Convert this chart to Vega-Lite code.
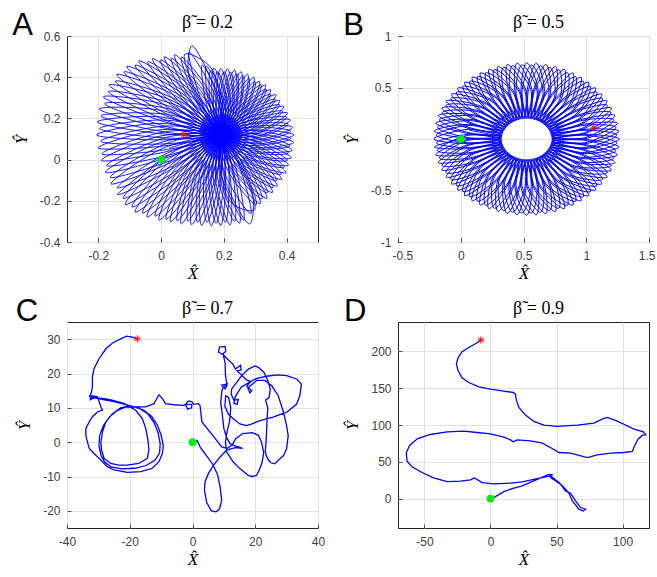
{
"$schema":"https://vega.github.io/schema/vega-lite/v6.json",
"background":"white",
"padding":{"left":11,"top":9,"right":0,"bottom":2},
"config":{
 "view":{"stroke":"#262626","strokeWidth":1},
 "axis":{"labelFont":"Liberation Sans","labelFontSize":12,"labelColor":"#404040","domain":false,"tickColor":"#262626","tickSize":-4,"tickWidth":0.8,"grid":true,"gridColor":"#e2e2e2","gridWidth":1,"labelFlush":false,"labelOverlap":false,"labelBound":false,"labelExpr":"'' + datum.value","titleFont":"Liberation Serif","titleFontStyle":"italic","titleFontWeight":"normal","titleFontSize":17,"titleColor":"#000000"},
 "axisX":{"labelPadding":12,"titlePadding":4},
 "axisY":{"labelPadding":11,"titlePadding":9},
 "title":{"font":"Liberation Sans","fontSize":31,"fontWeight":"normal","color":"#000000","anchor":"start","frame":"bounds","orient":"top","baseline":"alphabetic","offset":0,"dy":33}
},
"datasets":{
"m":[{"p":"A","k":"s","x":0,"y":0},{"p":"A","k":"e","x":0.072,"y":0.122},{"p":"B","k":"s","x":0,"y":0},{"p":"B","k":"e","x":1.06,"y":0.108},{"p":"C","k":"s","x":0,"y":0},{"p":"C","k":"e","x":-17.6,"y":30.1},{"p":"D","k":"s","x":0,"y":0},{"p":"D","k":"e","x":-7.3,"y":215.5}],
"a":[{"x":0,"y":0},
{"x":-0.139,"y":-0.17},{"x":0.033,"y":-0.046},{"x":0.19,"y":0.12},{"x":0.017,"y":-0.004},
{"x":-0.115,"y":-0.218},{"x":0.047,"y":-0.069},{"x":0.19,"y":0.12},{"x":0.028,"y":-0.03},
{"x":-0.083,"y":-0.255},{"x":0.064,"y":-0.086},{"x":0.19,"y":0.12},{"x":0.043,"y":-0.05},
{"x":-0.045,"y":-0.279},{"x":0.084,"y":-0.096},{"x":0.19,"y":0.12},{"x":0.061,"y":-0.063},
{"x":-0.007,"y":-0.294},{"x":0.104,"y":-0.102},{"x":0.19,"y":0.12},{"x":0.079,"y":-0.073},
{"x":0.03,"y":-0.302},{"x":0.124,"y":-0.103},{"x":0.19,"y":0.12},{"x":0.096,"y":-0.079},
{"x":0.064,"y":-0.312},{"x":0.142,"y":-0.106},{"x":0.19,"y":0.12},{"x":0.112,"y":-0.086},
{"x":0.097,"y":-0.316},{"x":0.159,"y":-0.106},{"x":0.19,"y":0.12},{"x":0.128,"y":-0.091},
{"x":0.129,"y":-0.319},{"x":0.175,"y":-0.105},{"x":0.19,"y":0.12},{"x":0.144,"y":-0.094},
{"x":0.16,"y":-0.322},{"x":0.191,"y":-0.103},{"x":0.19,"y":0.12},{"x":0.159,"y":-0.098},
{"x":0.19,"y":-0.319},{"x":0.206,"y":-0.1},{"x":0.19,"y":0.12},{"x":0.174,"y":-0.1},
{"x":0.22,"y":-0.317},{"x":0.221,"y":-0.096},{"x":0.19,"y":0.12},{"x":0.189,"y":-0.101},
{"x":0.25,"y":-0.309},{"x":0.236,"y":-0.09},{"x":0.19,"y":0.12},{"x":0.204,"y":-0.1},
{"x":0.282,"y":-0.312},{"x":0.291,"y":-0.164},{"x":0.19,"y":0.12},{"x":0.218,"y":-0.2},
{"x":0.297,"y":-0.245},{"x":0.258,"y":-0.053},{"x":0.19,"y":0.12},{"x":0.229,"y":-0.073},
{"x":0.316,"y":-0.214},{"x":0.267,"y":-0.035},{"x":0.19,"y":0.12},{"x":0.239,"y":-0.059},
{"x":0.337,"y":-0.188},{"x":0.276,"y":-0.02},{"x":0.19,"y":0.12},{"x":0.25,"y":-0.048},
{"x":0.355,"y":-0.159},{"x":0.284,"y":-0.003},{"x":0.19,"y":0.12},{"x":0.26,"y":-0.036},
{"x":0.37,"y":-0.128},{"x":0.291,"y":0.014},{"x":0.19,"y":0.12},{"x":0.27,"y":-0.022},
{"x":0.384,"y":-0.095},{"x":0.296,"y":0.032},{"x":0.19,"y":0.12},{"x":0.278,"y":-0.007},
{"x":0.398,"y":-0.063},{"x":0.302,"y":0.05},{"x":0.19,"y":0.12},{"x":0.286,"y":0.007},
{"x":0.406,"y":-0.027},{"x":0.305,"y":0.069},{"x":0.19,"y":0.12},{"x":0.292,"y":0.024},
{"x":0.415,"y":0.009},{"x":0.307,"y":0.088},{"x":0.19,"y":0.12},{"x":0.298,"y":0.041},
{"x":0.418,"y":0.046},{"x":0.307,"y":0.107},{"x":0.19,"y":0.12},{"x":0.301,"y":0.059},
{"x":0.422,"y":0.083},{"x":0.308,"y":0.126},{"x":0.19,"y":0.12},{"x":0.304,"y":0.077},
{"x":0.423,"y":0.12},{"x":0.307,"y":0.144},{"x":0.19,"y":0.12},{"x":0.307,"y":0.096},
{"x":0.419,"y":0.157},{"x":0.303,"y":0.163},{"x":0.19,"y":0.12},{"x":0.306,"y":0.114},
{"x":0.412,"y":0.192},{"x":0.298,"y":0.18},{"x":0.19,"y":0.12},{"x":0.304,"y":0.132},
{"x":0.403,"y":0.226},{"x":0.292,"y":0.196},{"x":0.19,"y":0.12},{"x":0.301,"y":0.15},
{"x":0.391,"y":0.257},{"x":0.284,"y":0.211},{"x":0.19,"y":0.12},{"x":0.297,"y":0.166},
{"x":0.378,"y":0.286},{"x":0.276,"y":0.224},{"x":0.19,"y":0.12},{"x":0.292,"y":0.182},
{"x":0.366,"y":0.315},{"x":0.269,"y":0.237},{"x":0.19,"y":0.12},{"x":0.287,"y":0.198},
{"x":0.349,"y":0.339},{"x":0.259,"y":0.248},{"x":0.19,"y":0.12},{"x":0.28,"y":0.211},
{"x":0.333,"y":0.363},{"x":0.25,"y":0.258},{"x":0.19,"y":0.12},{"x":0.274,"y":0.225},
{"x":0.314,"y":0.38},{"x":0.239,"y":0.265},{"x":0.19,"y":0.12},{"x":0.265,"y":0.236},
{"x":0.296,"y":0.399},{"x":0.229,"y":0.272},{"x":0.19,"y":0.12},{"x":0.257,"y":0.247},
{"x":0.276,"y":0.414},{"x":0.218,"y":0.277},{"x":0.19,"y":0.12},{"x":0.248,"y":0.257},
{"x":0.255,"y":0.426},{"x":0.207,"y":0.281},{"x":0.19,"y":0.12},{"x":0.238,"y":0.266},
{"x":0.234,"y":0.435},{"x":0.196,"y":0.283},{"x":0.19,"y":0.12},{"x":0.228,"y":0.272},
{"x":0.212,"y":0.44},{"x":0.185,"y":0.283},{"x":0.19,"y":0.12},{"x":0.217,"y":0.278},
{"x":0.19,"y":0.442},{"x":0.174,"y":0.281},{"x":0.19,"y":0.12},{"x":0.206,"y":0.281},
{"x":0.168,"y":0.445},{"x":0.163,"y":0.28},{"x":0.19,"y":0.12},{"x":0.195,"y":0.285},
{"x":0.144,"y":0.454},{"x":0.151,"y":0.282},{"x":0.19,"y":0.12},{"x":0.182,"y":0.292},
{"x":0.098,"y":0.552},{"x":0.089,"y":0.404},{"x":0.19,"y":0.12},{"x":0.162,"y":0.44},
{"x":0.076,"y":0.512},{"x":0.118,"y":0.306},{"x":0.19,"y":0.12},{"x":0.147,"y":0.326},
{"x":0.043,"y":0.509},{"x":0.103,"y":0.302},{"x":0.19,"y":0.12},{"x":0.13,"y":0.327},
{"x":0.01,"y":0.499},{"x":0.087,"y":0.295},{"x":0.19,"y":0.12},{"x":0.113,"y":0.324},
{"x":-0.028,"y":0.49},{"x":0.069,"y":0.289},{"x":0.19,"y":0.12},{"x":0.093,"y":0.321},
{"x":-0.071,"y":0.479},{"x":0.049,"y":0.281},{"x":0.19,"y":0.12},{"x":0.07,"y":0.318},
{"x":-0.11,"y":0.453},{"x":0.031,"y":0.267},{"x":0.19,"y":0.12},{"x":0.05,"y":0.306},
{"x":-0.142,"y":0.413},{"x":0.016,"y":0.245},{"x":0.19,"y":0.12},{"x":0.032,"y":0.288},
{"x":-0.166,"y":0.362},{"x":0.006,"y":0.219},{"x":0.19,"y":0.12},{"x":0.019,"y":0.263},
{"x":-0.184,"y":0.305},{"x":-0.002,"y":0.19},{"x":0.19,"y":0.12},{"x":0.008,"y":0.236},
{"x":-0.198,"y":0.246},{"x":-0.007,"y":0.159},{"x":0.19,"y":0.12},{"x":-0.001,"y":0.207},
{"x":-0.204,"y":0.183},{"x":-0.009,"y":0.127},{"x":0.19,"y":0.12},{"x":-0.005,"y":0.176},
{"x":-0.206,"y":0.12},{"x":-0.008,"y":0.096},{"x":0.19,"y":0.12},{"x":-0.008,"y":0.144},
{"x":-0.201,"y":0.057},{"x":-0.004,"y":0.064},{"x":0.19,"y":0.12},{"x":-0.007,"y":0.113},
{"x":-0.191,"y":-0.004},{"x":0.003,"y":0.034},{"x":0.19,"y":0.12},{"x":-0.004,"y":0.082},
{"x":-0.178,"y":-0.062},{"x":0.011,"y":0.006},{"x":0.19,"y":0.12},{"x":0.001,"y":0.052},
{"x":-0.16,"y":-0.118},{"x":0.021,"y":-0.021},{"x":0.19,"y":0.12},{"x":0.008,"y":0.023},
{"x":-0.14,"y":-0.137},{"x":0.051,"y":-0.021},{"x":0.224,"y":0.147},{"x":0.033,"y":0.031},
{"x":-0.121,"y":-0.188},{"x":0.061,"y":-0.043},{"x":0.222,"y":0.152},{"x":0.04,"y":0.006},
{"x":-0.093,"y":-0.23},{"x":0.076,"y":-0.059},{"x":0.22,"y":0.157},{"x":0.051,"y":-0.014},
{"x":-0.059,"y":-0.259},{"x":0.093,"y":-0.07},{"x":0.217,"y":0.161},{"x":0.066,"y":-0.028},
{"x":-0.019,"y":-0.274},{"x":0.112,"y":-0.073},{"x":0.214,"y":0.166},{"x":0.083,"y":-0.036},
{"x":0.016,"y":-0.289},{"x":0.13,"y":-0.076},{"x":0.211,"y":0.169},{"x":0.097,"y":-0.044},
{"x":0.051,"y":-0.297},{"x":0.146,"y":-0.076},{"x":0.207,"y":0.172},{"x":0.112,"y":-0.049},
{"x":0.085,"y":-0.299},{"x":0.162,"y":-0.073},{"x":0.204,"y":0.175},{"x":0.126,"y":-0.052},
{"x":0.116,"y":-0.304},{"x":0.176,"y":-0.071},{"x":0.2,"y":0.177},{"x":0.139,"y":-0.056},
{"x":0.146,"y":-0.304},{"x":0.19,"y":-0.068},{"x":0.196,"y":0.178},{"x":0.152,"y":-0.059},
{"x":0.175,"y":-0.309},{"x":0.203,"y":-0.067},{"x":0.192,"y":0.178},{"x":0.165,"y":-0.064},
{"x":0.205,"y":-0.304},{"x":0.216,"y":-0.061},{"x":0.188,"y":0.178},{"x":0.177,"y":-0.064},
{"x":0.234,"y":-0.299},{"x":0.228,"y":-0.056},{"x":0.184,"y":0.178},{"x":0.19,"y":-0.065},
{"x":0.263,"y":-0.295},{"x":0.24,"y":-0.052},{"x":0.18,"y":0.177},{"x":0.203,"y":-0.067},
{"x":0.286,"y":-0.263},{"x":0.249,"y":-0.033},{"x":0.176,"y":0.175},{"x":0.213,"y":-0.054},
{"x":0.303,"y":-0.219},{"x":0.255,"y":-0.01},{"x":0.173,"y":0.172},{"x":0.221,"y":-0.037},
{"x":0.322,"y":-0.191},{"x":0.262,"y":0.005},{"x":0.169,"y":0.169},{"x":0.23,"y":-0.027},
{"x":0.339,"y":-0.161},{"x":0.267,"y":0.021},{"x":0.166,"y":0.166},{"x":0.237,"y":-0.016},
{"x":0.357,"y":-0.135},{"x":0.274,"y":0.034},{"x":0.163,"y":0.161},{"x":0.246,"y":-0.008},
{"x":0.369,"y":-0.101},{"x":0.277,"y":0.051},{"x":0.16,"y":0.157},{"x":0.252,"y":0.005},
{"x":0.383,"y":-0.071},{"x":0.281,"y":0.065},{"x":0.158,"y":0.152},{"x":0.26,"y":0.016},
{"x":0.392,"y":-0.037},{"x":0.283,"y":0.081},{"x":0.156,"y":0.147},{"x":0.265,"y":0.029},
{"x":0.402,"y":-0.004},{"x":0.285,"y":0.096},{"x":0.154,"y":0.141},{"x":0.271,"y":0.041},
{"x":0.406,"y":0.032},{"x":0.285,"y":0.112},{"x":0.153,"y":0.135},{"x":0.275,"y":0.055},
{"x":0.411,"y":0.067},{"x":0.285,"y":0.127},{"x":0.152,"y":0.129},{"x":0.279,"y":0.069},
{"x":0.413,"y":0.102},{"x":0.284,"y":0.142},{"x":0.152,"y":0.123},{"x":0.282,"y":0.083},
{"x":0.413,"y":0.138},{"x":0.282,"y":0.157},{"x":0.152,"y":0.117},{"x":0.284,"y":0.098},
{"x":0.405,"y":0.172},{"x":0.275,"y":0.17},{"x":0.152,"y":0.111},{"x":0.281,"y":0.113},
{"x":0.4,"y":0.206},{"x":0.271,"y":0.184},{"x":0.153,"y":0.105},{"x":0.281,"y":0.127},
{"x":0.387,"y":0.235},{"x":0.264,"y":0.195},{"x":0.154,"y":0.099},{"x":0.278,"y":0.14},
{"x":0.378,"y":0.266},{"x":0.258,"y":0.206},{"x":0.156,"y":0.093},{"x":0.276,"y":0.154},
{"x":0.364,"y":0.293},{"x":0.251,"y":0.215},{"x":0.158,"y":0.088},{"x":0.272,"y":0.166},
{"x":0.349,"y":0.317},{"x":0.243,"y":0.223},{"x":0.16,"y":0.083},{"x":0.267,"y":0.177},
{"x":0.335,"y":0.341},{"x":0.235,"y":0.23},{"x":0.163,"y":0.079},{"x":0.262,"y":0.189},
{"x":0.319,"y":0.363},{"x":0.227,"y":0.237},{"x":0.166,"y":0.075},{"x":0.257,"y":0.2},
{"x":0.3,"y":0.378},{"x":0.218,"y":0.24},{"x":0.169,"y":0.071},{"x":0.251,"y":0.208},
{"x":0.281,"y":0.394},{"x":0.21,"y":0.244},{"x":0.173,"y":0.068},{"x":0.244,"y":0.218},
{"x":0.262,"y":0.407},{"x":0.201,"y":0.247},{"x":0.176,"y":0.065},{"x":0.237,"y":0.226},
{"x":0.242,"y":0.417},{"x":0.193,"y":0.248},{"x":0.18,"y":0.064},{"x":0.23,"y":0.233},
{"x":0.222,"y":0.424},{"x":0.184,"y":0.248},{"x":0.184,"y":0.062},{"x":0.222,"y":0.238},
{"x":0.201,"y":0.427},{"x":0.175,"y":0.246},{"x":0.188,"y":0.062},{"x":0.214,"y":0.243},
{"x":0.18,"y":0.427},{"x":0.167,"y":0.243},{"x":0.192,"y":0.062},{"x":0.205,"y":0.246},
{"x":0.158,"y":0.433},{"x":0.158,"y":0.243},{"x":0.196,"y":0.062},{"x":0.196,"y":0.252},
{"x":0.131,"y":0.459},{"x":0.147,"y":0.254},{"x":0.2,"y":0.064},{"x":0.184,"y":0.269},
{"x":0.089,"y":0.521},{"x":0.129,"y":0.283},{"x":0.204,"y":0.065},{"x":0.164,"y":0.304},
{"x":0.064,"y":0.498},{"x":0.119,"y":0.27},{"x":0.207,"y":0.068},{"x":0.153,"y":0.296},
{"x":0.032,"y":0.492},{"x":0.105,"y":0.266},{"x":0.211,"y":0.071},{"x":0.137,"y":0.298},
{"x":-0.003,"y":0.484},{"x":0.091,"y":0.261},{"x":0.214,"y":0.075},{"x":0.12,"y":0.298},
{"x":-0.043,"y":0.475},{"x":0.074,"y":0.256},{"x":0.217,"y":0.079},{"x":0.101,"y":0.298},
{"x":-0.083,"y":0.458},{"x":0.056,"y":0.248},{"x":0.22,"y":0.083},{"x":0.08,"y":0.293},
{"x":-0.118,"y":0.426},{"x":0.042,"y":0.232},{"x":0.222,"y":0.088},{"x":0.063,"y":0.281},
{"x":-0.146,"y":0.381},{"x":0.031,"y":0.211},{"x":0.224,"y":0.093},{"x":0.048,"y":0.264},
{"x":-0.168,"y":0.33},{"x":0.022,"y":0.187},{"x":0.226,"y":0.099},{"x":0.036,"y":0.242},
{"x":-0.18,"y":0.272},{"x":0.018,"y":0.16},{"x":0.227,"y":0.105},{"x":0.028,"y":0.217},
{"x":-0.192,"y":0.212},{"x":0.015,"y":0.133},{"x":0.228,"y":0.111},{"x":0.021,"y":0.191},
{"x":-0.196,"y":0.151},{"x":0.015,"y":0.105},{"x":0.228,"y":0.117},{"x":0.017,"y":0.163},
{"x":-0.193,"y":0.089},{"x":0.019,"y":0.077},{"x":0.228,"y":0.123},{"x":0.017,"y":0.136},
{"x":-0.189,"y":0.028},{"x":0.023,"y":0.05},{"x":0.228,"y":0.129},{"x":0.017,"y":0.108},
{"x":-0.174,"y":-0.029},{"x":0.032,"y":0.025},{"x":0.227,"y":0.135},{"x":0.022,"y":0.081},
{"x":-0.162,"y":-0.086},{"x":0.039,"y":0},{"x":0.226,"y":0.141},{"x":0.025,"y":0.055}],
"b":[{"x":0,"y":0},
{"x":-0.211,"y":-0.077},{"x":0.067,"y":-0.093},{"x":0.326,"y":-0.021},{"x":0.058,"y":-0.004},
{"x":-0.199,"y":-0.154},{"x":0.08,"y":-0.141},{"x":0.329,"y":-0.042},{"x":0.061,"y":-0.053},
{"x":-0.179,"y":-0.229},{"x":0.097,"y":-0.187},{"x":0.335,"y":-0.062},{"x":0.069,"y":-0.101},
{"x":-0.151,"y":-0.301},{"x":0.118,"y":-0.23},{"x":0.342,"y":-0.081},{"x":0.082,"y":-0.148},
{"x":-0.116,"y":-0.37},{"x":0.145,"y":-0.272},{"x":0.352,"y":-0.1},{"x":0.1,"y":-0.194},
{"x":-0.074,"y":-0.435},{"x":0.175,"y":-0.31},{"x":0.363,"y":-0.118},{"x":0.122,"y":-0.237},
{"x":-0.025,"y":-0.495},{"x":0.21,"y":-0.345},{"x":0.376,"y":-0.134},{"x":0.149,"y":-0.278},
{"x":0.03,"y":-0.55},{"x":0.247,"y":-0.376},{"x":0.391,"y":-0.149},{"x":0.18,"y":-0.315},
{"x":0.09,"y":-0.599},{"x":0.288,"y":-0.403},{"x":0.407,"y":-0.162},{"x":0.215,"y":-0.35},
{"x":0.155,"y":-0.641},{"x":0.331,"y":-0.425},{"x":0.425,"y":-0.173},{"x":0.253,"y":-0.38},
{"x":0.224,"y":-0.676},{"x":0.377,"y":-0.443},{"x":0.444,"y":-0.183},{"x":0.295,"y":-0.407},
{"x":0.296,"y":-0.704},{"x":0.424,"y":-0.456},{"x":0.463,"y":-0.19},{"x":0.338,"y":-0.428},
{"x":0.371,"y":-0.724},{"x":0.472,"y":-0.464},{"x":0.483,"y":-0.196},{"x":0.384,"y":-0.445},
{"x":0.448,"y":-0.736},{"x":0.521,"y":-0.467},{"x":0.504,"y":-0.199},{"x":0.432,"y":-0.458},
{"x":0.525,"y":-0.74},{"x":0.57,"y":-0.465},{"x":0.525,"y":-0.2},{"x":0.48,"y":-0.465},
{"x":0.602,"y":-0.736},{"x":0.618,"y":-0.458},{"x":0.546,"y":-0.199},{"x":0.529,"y":-0.467},
{"x":0.679,"y":-0.724},{"x":0.666,"y":-0.445},{"x":0.567,"y":-0.196},{"x":0.578,"y":-0.464},
{"x":0.754,"y":-0.704},{"x":0.711,"y":-0.428},{"x":0.587,"y":-0.19},{"x":0.626,"y":-0.456},
{"x":0.826,"y":-0.676},{"x":0.755,"y":-0.407},{"x":0.606,"y":-0.183},{"x":0.673,"y":-0.443},
{"x":0.895,"y":-0.641},{"x":0.796,"y":-0.38},{"x":0.625,"y":-0.173},{"x":0.718,"y":-0.425},
{"x":0.96,"y":-0.599},{"x":0.835,"y":-0.35},{"x":0.643,"y":-0.162},{"x":0.762,"y":-0.403},
{"x":1.02,"y":-0.55},{"x":0.869,"y":-0.315},{"x":0.659,"y":-0.149},{"x":0.803,"y":-0.376},
{"x":1.075,"y":-0.495},{"x":0.901,"y":-0.278},{"x":0.674,"y":-0.134},{"x":0.84,"y":-0.345},
{"x":1.124,"y":-0.435},{"x":0.928,"y":-0.237},{"x":0.687,"y":-0.118},{"x":0.875,"y":-0.31},
{"x":1.166,"y":-0.37},{"x":0.95,"y":-0.194},{"x":0.698,"y":-0.1},{"x":0.905,"y":-0.272},
{"x":1.201,"y":-0.301},{"x":0.968,"y":-0.148},{"x":0.708,"y":-0.081},{"x":0.931,"y":-0.23},
{"x":1.229,"y":-0.229},{"x":0.981,"y":-0.101},{"x":0.715,"y":-0.062},{"x":0.953,"y":-0.187},
{"x":1.249,"y":-0.154},{"x":0.989,"y":-0.053},{"x":0.721,"y":-0.042},{"x":0.97,"y":-0.141},
{"x":1.261,"y":-0.077},{"x":0.992,"y":-0.004},{"x":0.724,"y":-0.021},{"x":0.983,"y":-0.093},
{"x":1.265,"y":0},{"x":0.99,"y":0.045},{"x":0.725,"y":0},{"x":0.99,"y":-0.045},
{"x":1.261,"y":0.077},{"x":0.983,"y":0.093},{"x":0.724,"y":0.021},{"x":0.992,"y":0.004},
{"x":1.249,"y":0.154},{"x":0.97,"y":0.141},{"x":0.721,"y":0.042},{"x":0.989,"y":0.053},
{"x":1.229,"y":0.229},{"x":0.953,"y":0.187},{"x":0.715,"y":0.062},{"x":0.981,"y":0.101},
{"x":1.201,"y":0.301},{"x":0.932,"y":0.23},{"x":0.708,"y":0.081},{"x":0.968,"y":0.148},
{"x":1.166,"y":0.37},{"x":0.905,"y":0.272},{"x":0.698,"y":0.1},{"x":0.95,"y":0.194},
{"x":1.124,"y":0.435},{"x":0.875,"y":0.31},{"x":0.687,"y":0.118},{"x":0.928,"y":0.237},
{"x":1.075,"y":0.495},{"x":0.84,"y":0.345},{"x":0.674,"y":0.134},{"x":0.901,"y":0.278},
{"x":1.02,"y":0.55},{"x":0.803,"y":0.376},{"x":0.659,"y":0.149},{"x":0.87,"y":0.315},
{"x":0.96,"y":0.599},{"x":0.762,"y":0.403},{"x":0.643,"y":0.162},{"x":0.835,"y":0.35},
{"x":0.895,"y":0.641},{"x":0.719,"y":0.425},{"x":0.625,"y":0.173},{"x":0.797,"y":0.38},
{"x":0.826,"y":0.676},{"x":0.673,"y":0.443},{"x":0.606,"y":0.183},{"x":0.755,"y":0.407},
{"x":0.754,"y":0.704},{"x":0.626,"y":0.456},{"x":0.587,"y":0.19},{"x":0.712,"y":0.428},
{"x":0.679,"y":0.724},{"x":0.578,"y":0.464},{"x":0.567,"y":0.196},{"x":0.666,"y":0.445},
{"x":0.602,"y":0.736},{"x":0.529,"y":0.467},{"x":0.546,"y":0.199},{"x":0.618,"y":0.458},
{"x":0.525,"y":0.74},{"x":0.48,"y":0.465},{"x":0.525,"y":0.2},{"x":0.57,"y":0.465},
{"x":0.448,"y":0.736},{"x":0.432,"y":0.458},{"x":0.504,"y":0.199},{"x":0.521,"y":0.467},
{"x":0.371,"y":0.724},{"x":0.384,"y":0.445},{"x":0.483,"y":0.196},{"x":0.472,"y":0.464},
{"x":0.296,"y":0.704},{"x":0.339,"y":0.428},{"x":0.463,"y":0.19},{"x":0.424,"y":0.456},
{"x":0.224,"y":0.676},{"x":0.295,"y":0.407},{"x":0.444,"y":0.183},{"x":0.377,"y":0.443},
{"x":0.155,"y":0.641},{"x":0.254,"y":0.38},{"x":0.425,"y":0.173},{"x":0.332,"y":0.425},
{"x":0.09,"y":0.599},{"x":0.215,"y":0.35},{"x":0.407,"y":0.162},{"x":0.288,"y":0.403},
{"x":0.03,"y":0.55},{"x":0.181,"y":0.315},{"x":0.391,"y":0.149},{"x":0.247,"y":0.376},
{"x":-0.025,"y":0.495},{"x":0.149,"y":0.278},{"x":0.376,"y":0.134},{"x":0.21,"y":0.345},
{"x":-0.074,"y":0.435},{"x":0.122,"y":0.237},{"x":0.363,"y":0.118},{"x":0.175,"y":0.31},
{"x":-0.116,"y":0.37},{"x":0.1,"y":0.194},{"x":0.352,"y":0.1},{"x":0.145,"y":0.272},
{"x":-0.151,"y":0.301},{"x":0.082,"y":0.148},{"x":0.342,"y":0.081},{"x":0.119,"y":0.23},
{"x":-0.179,"y":0.229},{"x":0.069,"y":0.101},{"x":0.335,"y":0.062},{"x":0.097,"y":0.187},
{"x":-0.199,"y":0.154},{"x":0.061,"y":0.053},{"x":0.329,"y":0.042},{"x":0.08,"y":0.141},
{"x":-0.211,"y":0.077},{"x":0.058,"y":0.004},{"x":0.326,"y":0.021},{"x":0.067,"y":0.093},
{"x":-0.215,"y":0},{"x":0.06,"y":-0.045},{"x":0.325,"y":0},{"x":0.06,"y":0.045},
{"x":-0.194,"y":-0.038},{"x":0.069,"y":-0.084},{"x":0.325,"y":-0.011},{"x":0.062,"y":0.036},
{"x":-0.186,"y":-0.113},{"x":0.08,"y":-0.131},{"x":0.327,"y":-0.031},{"x":0.061,"y":-0.013},
{"x":-0.17,"y":-0.186},{"x":0.096,"y":-0.177},{"x":0.332,"y":-0.052},{"x":0.065,"y":-0.061},
{"x":-0.147,"y":-0.258},{"x":0.117,"y":-0.221},{"x":0.338,"y":-0.072},{"x":0.074,"y":-0.109},
{"x":-0.117,"y":-0.327},{"x":0.142,"y":-0.262},{"x":0.347,"y":-0.091},{"x":0.088,"y":-0.155},
{"x":-0.079,"y":-0.392},{"x":0.172,"y":-0.301},{"x":0.357,"y":-0.109},{"x":0.106,"y":-0.2},
{"x":-0.035,"y":-0.453},{"x":0.205,"y":-0.336},{"x":0.37,"y":-0.126},{"x":0.13,"y":-0.243},
{"x":0.016,"y":-0.509},{"x":0.242,"y":-0.368},{"x":0.384,"y":-0.141},{"x":0.157,"y":-0.283},
{"x":0.072,"y":-0.56},{"x":0.282,"y":-0.395},{"x":0.399,"y":-0.155},{"x":0.189,"y":-0.32},
{"x":0.133,"y":-0.604},{"x":0.325,"y":-0.419},{"x":0.416,"y":-0.168},{"x":0.224,"y":-0.353},
{"x":0.198,"y":-0.642},{"x":0.37,"y":-0.437},{"x":0.434,"y":-0.178},{"x":0.263,"y":-0.383},
{"x":0.267,"y":-0.672},{"x":0.416,"y":-0.451},{"x":0.453,"y":-0.187},{"x":0.304,"y":-0.408},
{"x":0.339,"y":-0.695},{"x":0.464,"y":-0.46},{"x":0.473,"y":-0.193},{"x":0.348,"y":-0.429},
{"x":0.412,"y":-0.711},{"x":0.512,"y":-0.464},{"x":0.494,"y":-0.198},{"x":0.394,"y":-0.445},
{"x":0.487,"y":-0.719},{"x":0.561,"y":-0.463},{"x":0.515,"y":-0.2},{"x":0.441,"y":-0.456},
{"x":0.563,"y":-0.719},{"x":0.609,"y":-0.456},{"x":0.535,"y":-0.2},{"x":0.489,"y":-0.463},
{"x":0.638,"y":-0.711},{"x":0.656,"y":-0.445},{"x":0.556,"y":-0.198},{"x":0.538,"y":-0.464},
{"x":0.711,"y":-0.695},{"x":0.702,"y":-0.429},{"x":0.577,"y":-0.193},{"x":0.586,"y":-0.46},
{"x":0.783,"y":-0.672},{"x":0.746,"y":-0.408},{"x":0.597,"y":-0.187},{"x":0.634,"y":-0.451},
{"x":0.852,"y":-0.642},{"x":0.787,"y":-0.383},{"x":0.616,"y":-0.178},{"x":0.68,"y":-0.437},
{"x":0.917,"y":-0.604},{"x":0.825,"y":-0.353},{"x":0.634,"y":-0.168},{"x":0.725,"y":-0.419},
{"x":0.978,"y":-0.56},{"x":0.861,"y":-0.32},{"x":0.651,"y":-0.155},{"x":0.768,"y":-0.395},
{"x":1.034,"y":-0.509},{"x":0.893,"y":-0.283},{"x":0.666,"y":-0.141},{"x":0.808,"y":-0.368},
{"x":1.085,"y":-0.453},{"x":0.92,"y":-0.243},{"x":0.68,"y":-0.126},{"x":0.845,"y":-0.336},
{"x":1.129,"y":-0.392},{"x":0.944,"y":-0.2},{"x":0.693,"y":-0.109},{"x":0.878,"y":-0.301},
{"x":1.167,"y":-0.327},{"x":0.962,"y":-0.155},{"x":0.703,"y":-0.091},{"x":0.908,"y":-0.262},
{"x":1.197,"y":-0.258},{"x":0.976,"y":-0.109},{"x":0.712,"y":-0.072},{"x":0.933,"y":-0.221},
{"x":1.22,"y":-0.186},{"x":0.985,"y":-0.061},{"x":0.718,"y":-0.052},{"x":0.954,"y":-0.177},
{"x":1.236,"y":-0.113},{"x":0.989,"y":-0.013},{"x":0.723,"y":-0.031},{"x":0.97,"y":-0.131},
{"x":1.244,"y":-0.038},{"x":0.988,"y":0.036},{"x":0.725,"y":-0.011},{"x":0.981,"y":-0.084},
{"x":1.244,"y":0.038},{"x":0.981,"y":0.084},{"x":0.725,"y":0.011},{"x":0.988,"y":-0.036},
{"x":1.236,"y":0.113},{"x":0.97,"y":0.131},{"x":0.723,"y":0.031},{"x":0.989,"y":0.013},
{"x":1.22,"y":0.186},{"x":0.954,"y":0.177},{"x":0.718,"y":0.052},{"x":0.985,"y":0.061},
{"x":1.197,"y":0.258},{"x":0.933,"y":0.221},{"x":0.712,"y":0.072},{"x":0.976,"y":0.109},
{"x":1.167,"y":0.327},{"x":0.908,"y":0.262},{"x":0.703,"y":0.091},{"x":0.962,"y":0.155},
{"x":1.129,"y":0.392},{"x":0.878,"y":0.301},{"x":0.693,"y":0.109},{"x":0.944,"y":0.2},
{"x":1.085,"y":0.453},{"x":0.845,"y":0.336},{"x":0.68,"y":0.126},{"x":0.92,"y":0.243},
{"x":1.034,"y":0.509},{"x":0.808,"y":0.368},{"x":0.666,"y":0.141},{"x":0.893,"y":0.283},
{"x":0.978,"y":0.56},{"x":0.768,"y":0.395},{"x":0.651,"y":0.155},{"x":0.861,"y":0.32},
{"x":0.917,"y":0.604},{"x":0.725,"y":0.419},{"x":0.634,"y":0.168},{"x":0.826,"y":0.353},
{"x":0.852,"y":0.642},{"x":0.68,"y":0.437},{"x":0.616,"y":0.178},{"x":0.787,"y":0.383},
{"x":0.783,"y":0.672},{"x":0.634,"y":0.451},{"x":0.597,"y":0.187},{"x":0.746,"y":0.408},
{"x":0.711,"y":0.695},{"x":0.586,"y":0.46},{"x":0.577,"y":0.193},{"x":0.702,"y":0.429},
{"x":0.638,"y":0.711},{"x":0.538,"y":0.464},{"x":0.556,"y":0.198},{"x":0.656,"y":0.445},
{"x":0.563,"y":0.719},{"x":0.489,"y":0.463},{"x":0.536,"y":0.2},{"x":0.609,"y":0.456},
{"x":0.487,"y":0.719},{"x":0.441,"y":0.456},{"x":0.515,"y":0.2},{"x":0.561,"y":0.463},
{"x":0.412,"y":0.711},{"x":0.394,"y":0.445},{"x":0.494,"y":0.198},{"x":0.512,"y":0.464},
{"x":0.339,"y":0.695},{"x":0.348,"y":0.429},{"x":0.473,"y":0.193},{"x":0.464,"y":0.46},
{"x":0.267,"y":0.672},{"x":0.304,"y":0.408},{"x":0.453,"y":0.187},{"x":0.416,"y":0.451},
{"x":0.198,"y":0.642},{"x":0.263,"y":0.383},{"x":0.434,"y":0.178},{"x":0.37,"y":0.437},
{"x":0.133,"y":0.604},{"x":0.224,"y":0.353},{"x":0.416,"y":0.168},{"x":0.325,"y":0.419},
{"x":0.072,"y":0.56},{"x":0.189,"y":0.32},{"x":0.399,"y":0.155},{"x":0.282,"y":0.395},
{"x":0.016,"y":0.509},{"x":0.157,"y":0.283},{"x":0.384,"y":0.141},{"x":0.242,"y":0.368},
{"x":-0.035,"y":0.453},{"x":0.13,"y":0.243},{"x":0.37,"y":0.126},{"x":0.205,"y":0.336},
{"x":-0.079,"y":0.392},{"x":0.107,"y":0.2},{"x":0.357,"y":0.109},{"x":0.172,"y":0.301},
{"x":-0.117,"y":0.327},{"x":0.088,"y":0.155},{"x":0.347,"y":0.091},{"x":0.142,"y":0.262},
{"x":-0.147,"y":0.258},{"x":0.074,"y":0.109},{"x":0.338,"y":0.072},{"x":0.117,"y":0.221},
{"x":-0.17,"y":0.186},{"x":0.065,"y":0.061},{"x":0.332,"y":0.052},{"x":0.096,"y":0.177},
{"x":-0.186,"y":0.113},{"x":0.061,"y":0.013},{"x":0.328,"y":0.031},{"x":0.08,"y":0.131},
{"x":-0.194,"y":0.038},{"x":0.063,"y":-0.036},{"x":0.325,"y":0.011},{"x":0.069,"y":0.084}],
"c":[{"x":0,"y":0},{"x":1.5,"y":0.4},{"x":2.5,"y":-1.5},{"x":4.5,"y":-4},{"x":6.5,"y":-6.5},{"x":8,"y":-9.5},{"x":8.8,"y":-13},{"x":9.3,"y":-17},{"x":8.6,"y":-19.5},{"x":7.5,"y":-20.3},{"x":6,"y":-20},{"x":4.5,"y":-17.5},{"x":3.8,"y":-14},{"x":4,"y":-11.5},{"x":5.1,"y":-9.1},{"x":6.7,"y":-6.7},{"x":8.8,"y":-4.3},{"x":10.9,"y":-2.3},{"x":13.6,"y":-1.6},{"x":16,"y":-1.8},{"x":14,"y":-1.2},{"x":12,"y":-0.5},{"x":10.8,"y":1.5},{"x":10,"y":4},{"x":9.5,"y":8},{"x":9,"y":11.5},{"x":9.3,"y":14.5},{"x":9.6,"y":15.6},{"x":10.9,"y":16.9},{"x":9.3,"y":16.6},{"x":10.4,"y":15.5},{"x":11,"y":16.5},
{"x":10.5,"y":19.5},{"x":10.4,"y":23},{"x":9.8,"y":25.5},{"x":8.3,"y":26.2},{"x":8.6,"y":27.7},{"x":10.4,"y":27.9},{"x":10.6,"y":26.4},{"x":9.6,"y":25.7},
{"x":11,"y":24.3},{"x":12.8,"y":22.8},{"x":13.7,"y":21.3},{"x":15.3,"y":22.4},{"x":15.5,"y":21},{"x":14.2,"y":20.8},
{"x":15.6,"y":19.6},{"x":17.1,"y":18.2},{"x":18.6,"y":17.6},{"x":17.3,"y":16.4},{"x":18.9,"y":15},{"x":18.3,"y":14.4},{"x":17.6,"y":15.8},
{"x":20.5,"y":18},{"x":23,"y":18},{"x":25.2,"y":16.5},{"x":27.3,"y":13.6},{"x":28,"y":11.6},{"x":29,"y":8.7},{"x":30,"y":4.8},{"x":30.5,"y":1.9},{"x":30,"y":-1.9},{"x":29,"y":-3.9},{"x":27.3,"y":-5.3},{"x":26.3,"y":-6.3},{"x":25,"y":-6},{"x":24.2,"y":-5.2},{"x":23.5,"y":-3.9},{"x":23.2,"y":-2.6},{"x":23.4,"y":-0.5},{"x":23.6,"y":3},{"x":23.8,"y":7},{"x":24,"y":10},{"x":23.3,"y":12.3},{"x":24.4,"y":13},{"x":24.8,"y":15.5},{"x":24,"y":18},{"x":22.8,"y":20.3},{"x":21,"y":21.8},{"x":19.9,"y":22.2},{"x":17.8,"y":21.3},{"x":15.7,"y":19.4},{"x":14.1,"y":17.4},{"x":12.5,"y":15.5},{"x":12.3,"y":14},{"x":13.2,"y":12.2},{"x":14.6,"y":12.5},{"x":14.2,"y":11},{"x":13.2,"y":11.3},{"x":13.6,"y":13.2},
{"x":15.5,"y":16},{"x":18.3,"y":17.6},{"x":20.5,"y":18.6},{"x":23.6,"y":19.2},{"x":27,"y":19.6},{"x":30,"y":19.4},{"x":33.2,"y":18.4},{"x":34.7,"y":16.9},{"x":34.5,"y":15.5},{"x":34.2,"y":13.5},{"x":33.2,"y":11.1},{"x":31.5,"y":9.8},{"x":30,"y":8.7},{"x":27.8,"y":8},{"x":25.7,"y":7.3},{"x":23.5,"y":6.8},{"x":21.5,"y":6.3},{"x":19.4,"y":5.5},{"x":17.3,"y":4.8},{"x":15.1,"y":5.3},{"x":13,"y":6.8},{"x":11.4,"y":8.2},{"x":10.3,"y":10.5},{"x":10.6,"y":13.5},
{"x":11.5,"y":13},{"x":12.2,"y":10},{"x":11.8,"y":6},{"x":11,"y":3},{"x":10.5,"y":0},{"x":10.9,"y":-2.9},{"x":13,"y":-5.8},{"x":15.1,"y":-7.7},{"x":17.8,"y":-9.7},{"x":19,"y":-10},{"x":20.4,"y":-9.7},{"x":21.5,"y":-7.7},{"x":22.2,"y":-5.8},{"x":22.7,"y":-3},{"x":22,"y":0},{"x":21,"y":2},{"x":19,"y":2.8},{"x":16,"y":2.5},{"x":13.8,"y":1},{"x":12.5,"y":-1},{"x":11,"y":-1.8},
{"x":9.3,"y":-1.4},{"x":7.2,"y":1.1},{"x":5.1,"y":3.5},{"x":3,"y":5.9},{"x":2.4,"y":10.7},{"x":1.9,"y":11.2},{"x":0.5,"y":11},{"x":-0.3,"y":11.8},{"x":-1.3,"y":12},{"x":-2.3,"y":11},{"x":-1.5,"y":9.6},{"x":-0.3,"y":10},{"x":-0.2,"y":11},{"x":-1.5,"y":11},{"x":-2.8,"y":10.7},{"x":-5.9,"y":10.9},{"x":-8.6,"y":11.2},{"x":-9.6,"y":12.7},{"x":-10.7,"y":13.8},{"x":-11.5,"y":12.5},{"x":-12.3,"y":11.2},{"x":-14.9,"y":10.3},{"x":-18.6,"y":10.3},
{"x":-21.5,"y":10.2},{"x":-24,"y":9.2},{"x":-26.3,"y":7.5},{"x":-28.3,"y":5},{"x":-29.6,"y":2},{"x":-29.8,"y":-1},{"x":-29.2,"y":-3.8},{"x":-28,"y":-5.8},{"x":-26,"y":-7.2},{"x":-22.5,"y":-7.8},{"x":-18.5,"y":-7.6},{"x":-14.8,"y":-6.8},{"x":-12,"y":-5.3},{"x":-10.5,"y":-3.2},{"x":-10.3,"y":-0.5},{"x":-11,"y":2.8},{"x":-12.3,"y":5.8},{"x":-14.3,"y":8.3},{"x":-17,"y":9.9},{"x":-20.2,"y":10.6},
{"x":-22.9,"y":10},{"x":-25.5,"y":8.3},{"x":-27.6,"y":5.9},{"x":-28.7,"y":3},{"x":-29.2,"y":0},{"x":-29,"y":-2.3},{"x":-28.2,"y":-4.7},{"x":-26.1,"y":-6.2},{"x":-23.5,"y":-6.7},{"x":-20.8,"y":-6.7},{"x":-17.1,"y":-6.2},{"x":-14.4,"y":-4.7},{"x":-13.9,"y":-2.3},{"x":-14.2,"y":0.6},{"x":-14.9,"y":4},{"x":-16,"y":6.9},{"x":-18.1,"y":9.3},{"x":-20.2,"y":10.4},
{"x":-21.8,"y":11.3},{"x":-23.9,"y":11.8},{"x":-26,"y":12.3},{"x":-28.2,"y":12.7},{"x":-30.3,"y":12.9},{"x":-31.4,"y":12.8},{"x":-32.6,"y":12.4},{"x":-32.2,"y":13.5},
{"x":-30.3,"y":13.2},{"x":-29.2,"y":10.3},{"x":-28.7,"y":9.3},{"x":-30.3,"y":8.8},{"x":-31.9,"y":7.4},{"x":-32.9,"y":5.9},{"x":-34,"y":4},{"x":-34,"y":2},{"x":-33.5,"y":0.1},{"x":-32.9,"y":-1.8},{"x":-31.4,"y":-3.3},{"x":-29.8,"y":-4.7},{"x":-28.7,"y":-5.7},{"x":-27.1,"y":-7.2},{"x":-25,"y":-8.1},{"x":-20.8,"y":-8.8},{"x":-16.5,"y":-8.6},{"x":-12.8,"y":-7.6},{"x":-10.7,"y":-5.7},{"x":-9.6,"y":-3.3},{"x":-9.3,"y":-1},{"x":-10,"y":2},{"x":-11.2,"y":5},{"x":-13,"y":7.5},{"x":-15.5,"y":9.3},{"x":-18.5,"y":10.3},{"x":-21.5,"y":11},{"x":-25,"y":11.8},{"x":-28.5,"y":12.4},{"x":-31.5,"y":13},{"x":-32.8,"y":13.2},{"x":-32.2,"y":14.6},{"x":-31.9,"y":16.1},{"x":-31.9,"y":19},{"x":-31.4,"y":21.4},{"x":-29.8,"y":24.3},{"x":-27.6,"y":27.2},{"x":-25.5,"y":28.9},{"x":-22.9,"y":30.1},{"x":-21,"y":30.9},{"x":-19.2,"y":30.6},{"x":-17.6,"y":30.1}],
"d":[{"x":0,"y":0},{"x":3.8,"y":2.7},{"x":10.1,"y":9.5},{"x":16.4,"y":13.6},{"x":24,"y":17.2},{"x":32.8,"y":24},{"x":40.4,"y":30},{"x":44.2,"y":32.7},{"x":46.7,"y":32.2},{"x":45.5,"y":28.6},{"x":53,"y":19.5},{"x":56.8,"y":10.4},{"x":60.6,"y":7.3},{"x":64.4,"y":-3.2},{"x":68.2,"y":-12.2},{"x":72,"y":-14.5},{"x":70.2,"y":-16.8},{"x":67,"y":-14.5},{"x":62,"y":-3.2},{"x":59.4,"y":7.3},{"x":55.6,"y":15},{"x":51.8,"y":21.8},{"x":45.5,"y":30.8},{"x":35.4,"y":27.2},{"x":24,"y":22.7},{"x":15.2,"y":20.9},{"x":2.5,"y":20},{"x":-6.3,"y":21.8},{"x":-12.1,"y":28.1},{"x":-15.2,"y":25.4},{"x":-22.7,"y":23.6},{"x":-32.8,"y":23.1},{"x":-43,"y":28.1},{"x":-51.8,"y":35.4},{"x":-59.4,"y":43.1},{"x":-63.2,"y":51.2},{"x":-63.7,"y":62.6},{"x":-61.1,"y":72.6},{"x":-55.1,"y":81.6},{"x":-45.5,"y":87.1},{"x":-32.8,"y":90.7},{"x":-20.2,"y":91.6},{"x":-10.1,"y":89.8},{"x":0,"y":88},{"x":10.1,"y":83.4},{"x":15.2,"y":79.8},{"x":17.2,"y":77.1},{"x":20.2,"y":79.8},{"x":30.3,"y":78.5},{"x":39.2,"y":75.3},{"x":46.7,"y":68},{"x":51.8,"y":62.6},{"x":60.6,"y":61.7},{"x":73.3,"y":55.8},{"x":80.8,"y":59.4},{"x":91,"y":61.7},{"x":101,"y":62.6},{"x":107.4,"y":64},{"x":109.1,"y":71.7},{"x":111.7,"y":80.7},{"x":115,"y":86.2},{"x":117.5,"y":86.6},{"x":115.7,"y":90.7},{"x":108.6,"y":94.3},{"x":101,"y":101},{"x":95.5,"y":105.7},{"x":88.4,"y":110.2},{"x":84.6,"y":108},{"x":78.3,"y":102.5},{"x":65.7,"y":99.8},{"x":50.5,"y":98},{"x":40.4,"y":99.8},{"x":32.8,"y":104.8},{"x":26.5,"y":113.4},{"x":21.5,"y":123.8},{"x":19.5,"y":134.2},{"x":18.9,"y":142},{"x":17.2,"y":144.2},{"x":10.1,"y":146},{"x":0,"y":148.8},{"x":-8.8,"y":151.9},{"x":-16.4,"y":157.8},{"x":-21.5,"y":164.2},{"x":-24.5,"y":173.7},{"x":-25.8,"y":182.8},{"x":-24.5,"y":191.8},{"x":-21.5,"y":199.5},{"x":-16.4,"y":205.4},{"x":-10.1,"y":211.8},{"x":-7.1,"y":215.4}]
},
"columns":2,
"spacing":80,
"bounds":"flush",
"concat":[
{"width":251,"height":206,"title":{"text":"A"},"resolve":{"axis":{"x":"independent"}},
 "layer":[
  {"data":{"name":"a"},"mark":{"type":"line","order":false,"interpolate":"catmull-rom","strokeWidth":0.9,"color":"#0000ff"},
   "encoding":{"x":{"field":"x","type":"quantitative","scale":{"domain":[-0.3,0.5],"nice":false,"zero":false},"axis":{"values":[-0.2,0,0.2,0.4],"title":"X̂"}},
    "y":{"field":"y","type":"quantitative","scale":{"domain":[-0.4,0.6],"nice":false,"zero":false},"axis":{"values":[-0.4,-0.2,0,0.2,0.4,0.6],"title":"Ŷ"}}}},
  {"data":{"name":"m"},"transform":[{"filter":"datum.p=='A' && datum.k=='s'"}],"mark":{"type":"point","filled":true,"color":"#00ee00","size":60,"opacity":1},
   "encoding":{"x":{"field":"x","type":"quantitative","axis":{"orient":"top","title":"β̃ = 0.2","labels":false,"ticks":false,"domain":false,"grid":false,"titleFont":"Liberation Serif","titleFontStyle":"normal","titleFontSize":18,"titlePadding":9,"titleBaseline":"alphabetic","titleX":140,"titleAlign":"center"}},"y":{"field":"y","type":"quantitative","axis":{"values":[-0.4,-0.2,0,0.2,0.4,0.6],"title":"Ŷ"}}}},
  {"data":{"name":"m"},"transform":[{"filter":"datum.p=='A' && datum.k=='e'"}],"mark":{"type":"point","shape":"M-1,0L1,0M0,-1L0,1M-0.7,-0.7L0.7,0.7M-0.7,0.7L0.7,-0.7","filled":false,"color":"#ff0000","size":50,"strokeWidth":1,"opacity":1},
   "encoding":{"x":{"field":"x","type":"quantitative","axis":null},"y":{"field":"y","type":"quantitative","axis":{"values":[-0.4,-0.2,0,0.2,0.4,0.6],"title":"Ŷ"}}}}
 ]},
{"width":251,"height":206,"title":{"text":"B"},"resolve":{"axis":{"x":"independent"}},
 "layer":[
  {"data":{"name":"b"},"mark":{"type":"line","order":false,"interpolate":"catmull-rom","strokeWidth":1,"color":"#0000ff"},
   "encoding":{"x":{"field":"x","type":"quantitative","scale":{"domain":[-0.5,1.5],"nice":false,"zero":false},"axis":{"values":[-0.5,0,0.5,1,1.5],"title":"X̂","labelFlush":true,"labelFlushOffset":6}},
    "y":{"field":"y","type":"quantitative","scale":{"domain":[-1,1],"nice":false,"zero":false},"axis":{"values":[-1,-0.5,0,0.5,1],"title":"Ŷ"}}}},
  {"data":{"name":"m"},"transform":[{"filter":"datum.p=='B' && datum.k=='s'"}],"mark":{"type":"point","filled":true,"color":"#00ee00","size":60,"opacity":1},
   "encoding":{"x":{"field":"x","type":"quantitative","axis":{"orient":"top","title":"β̃ = 0.5","labels":false,"ticks":false,"domain":false,"grid":false,"titleFont":"Liberation Serif","titleFontStyle":"normal","titleFontSize":18,"titlePadding":9,"titleBaseline":"alphabetic","titleX":140,"titleAlign":"center"}},"y":{"field":"y","type":"quantitative","axis":{"values":[-1,-0.5,0,0.5,1],"title":"Ŷ"}}}},
  {"data":{"name":"m"},"transform":[{"filter":"datum.p=='B' && datum.k=='e'"}],"mark":{"type":"point","shape":"M-1,0L1,0M0,-1L0,1M-0.7,-0.7L0.7,0.7M-0.7,0.7L0.7,-0.7","filled":false,"color":"#ff0000","size":50,"strokeWidth":1,"opacity":1},
   "encoding":{"x":{"field":"x","type":"quantitative","axis":null},"y":{"field":"y","type":"quantitative","axis":{"values":[-1,-0.5,0,0.5,1],"title":"Ŷ"}}}}
 ]},
{"width":251,"height":206,"title":{"text":"C"},"resolve":{"axis":{"x":"independent"}},
 "layer":[
  {"data":{"name":"c"},"mark":{"type":"line","order":false,"strokeWidth":1.3,"color":"#0000ff"},
   "encoding":{"x":{"field":"x","type":"quantitative","scale":{"domain":[-40,40],"nice":false,"zero":false},"axis":{"values":[-40,-20,0,20,40],"title":"X̂"}},
    "y":{"field":"y","type":"quantitative","scale":{"domain":[-25,35],"nice":false,"zero":false},"axis":{"values":[-20,-10,0,10,20,30],"title":"Ŷ"}}}},
  {"data":{"name":"m"},"transform":[{"filter":"datum.p=='C' && datum.k=='s'"}],"mark":{"type":"point","filled":true,"color":"#00ee00","size":60,"opacity":1},
   "encoding":{"x":{"field":"x","type":"quantitative","axis":{"orient":"top","title":"β̃ = 0.7","labels":false,"ticks":false,"domain":false,"grid":false,"titleFont":"Liberation Serif","titleFontStyle":"normal","titleFontSize":18,"titlePadding":9,"titleBaseline":"alphabetic","titleX":140,"titleAlign":"center"}},"y":{"field":"y","type":"quantitative","axis":{"values":[-20,-10,0,10,20,30],"title":"Ŷ"}}}},
  {"data":{"name":"m"},"transform":[{"filter":"datum.p=='C' && datum.k=='e'"}],"mark":{"type":"point","shape":"M-1,0L1,0M0,-1L0,1M-0.7,-0.7L0.7,0.7M-0.7,0.7L0.7,-0.7","filled":false,"color":"#ff0000","size":50,"strokeWidth":1,"opacity":1},
   "encoding":{"x":{"field":"x","type":"quantitative","axis":null},"y":{"field":"y","type":"quantitative","axis":{"values":[-20,-10,0,10,20,30],"title":"Ŷ"}}}}
 ]},
{"width":251,"height":206,"title":{"text":"D"},"resolve":{"axis":{"x":"independent"}},
 "layer":[
  {"data":{"name":"d"},"mark":{"type":"line","order":false,"strokeWidth":1.3,"color":"#0000ff"},
   "encoding":{"x":{"field":"x","type":"quantitative","scale":{"domain":[-70,120],"nice":false,"zero":false},"axis":{"values":[-50,0,50,100],"title":"X̂"}},
    "y":{"field":"y","type":"quantitative","scale":{"domain":[-40,240],"nice":false,"zero":false},"axis":{"values":[0,50,100,150,200],"title":"Ŷ"}}}},
  {"data":{"name":"m"},"transform":[{"filter":"datum.p=='D' && datum.k=='s'"}],"mark":{"type":"point","filled":true,"color":"#00ee00","size":60,"opacity":1},
   "encoding":{"x":{"field":"x","type":"quantitative","axis":{"orient":"top","title":"β̃ = 0.9","labels":false,"ticks":false,"domain":false,"grid":false,"titleFont":"Liberation Serif","titleFontStyle":"normal","titleFontSize":18,"titlePadding":9,"titleBaseline":"alphabetic","titleX":140,"titleAlign":"center"}},"y":{"field":"y","type":"quantitative","axis":{"values":[0,50,100,150,200],"title":"Ŷ"}}}},
  {"data":{"name":"m"},"transform":[{"filter":"datum.p=='D' && datum.k=='e'"}],"mark":{"type":"point","shape":"M-1,0L1,0M0,-1L0,1M-0.7,-0.7L0.7,0.7M-0.7,0.7L0.7,-0.7","filled":false,"color":"#ff0000","size":50,"strokeWidth":1,"opacity":1},
   "encoding":{"x":{"field":"x","type":"quantitative","axis":null},"y":{"field":"y","type":"quantitative","axis":{"values":[0,50,100,150,200],"title":"Ŷ"}}}}
 ]}
]
}
